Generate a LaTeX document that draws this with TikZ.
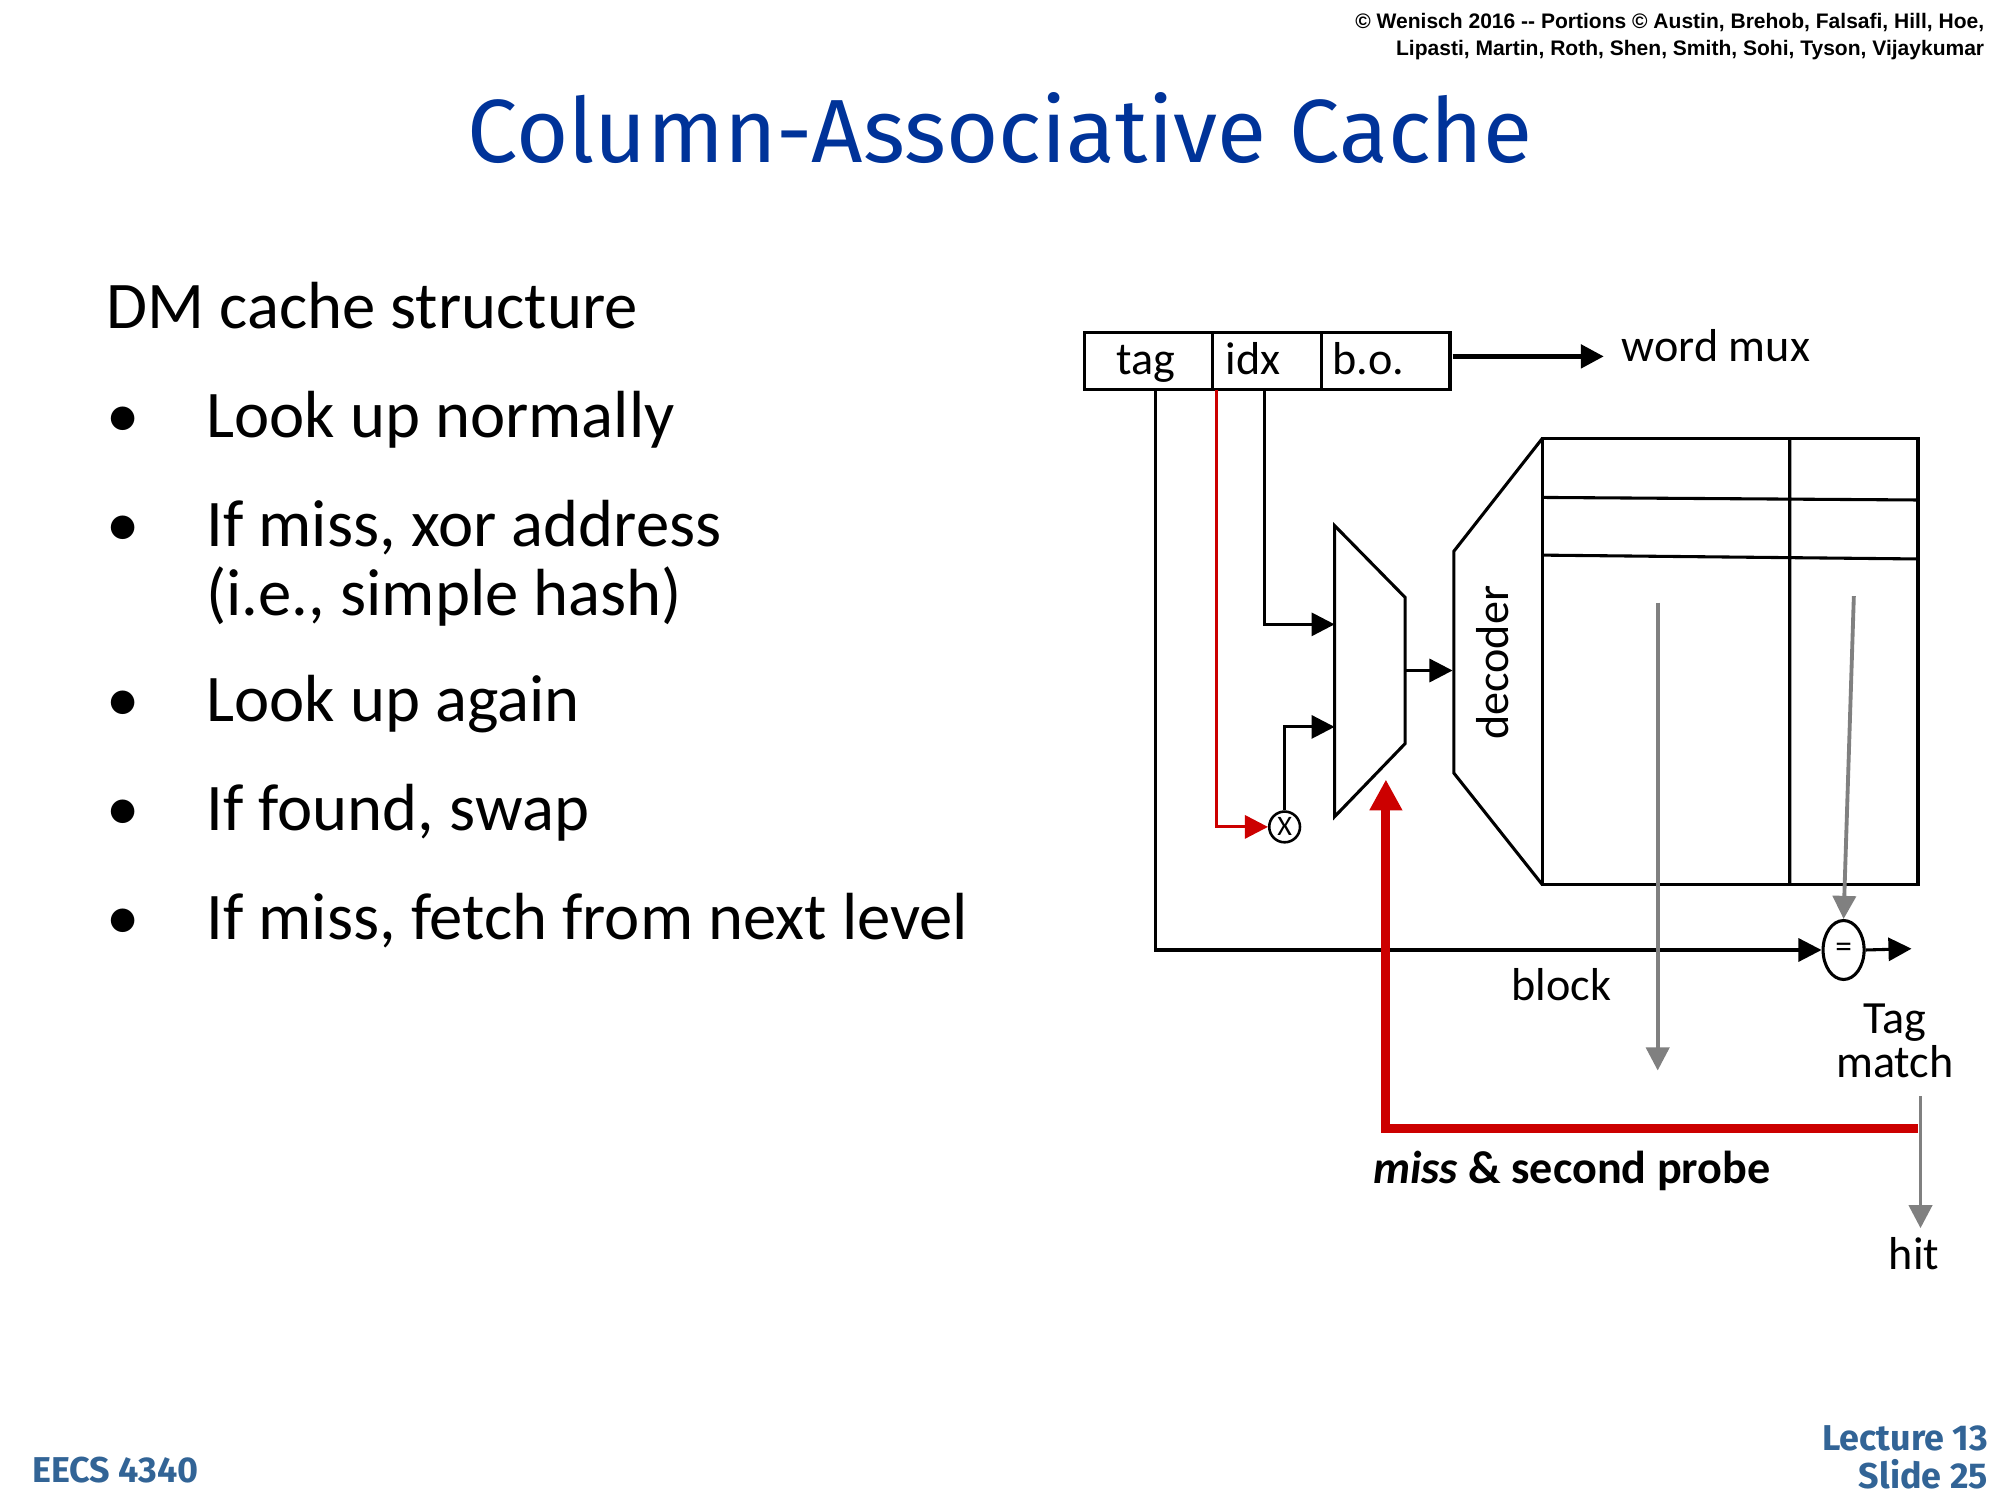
\documentclass[tikz,border=0pt]{standalone}
\usepackage{fontspec}
\setmainfont{Carlito}
\newfontfamily\arialfont{Liberation Sans}
\newfontfamily\titlefont{Fira Sans}
\usetikzlibrary{arrows.meta,shapes.geometric,positioning}
\definecolor{slideblue}{RGB}{0,51,153}
\definecolor{footblue}{RGB}{50,100,150}
\definecolor{probered}{RGB}{204,0,0}
\begin{document}
\begin{tikzpicture}[x=0.5pt,y=-0.5pt,
	wire/.style={draw=black,line width=1.2pt},
	tip/.style={-{Triangle[length=9pt,width=9pt]}},
	bullet/.style={anchor=base west,font=\fontsize{26}{30}\selectfont},
	field/.style={anchor=base west,font=\fontsize{18}{20}\selectfont},
	label/.style={font=\fontsize{18}{20}\selectfont,align=center}]

	\useasboundingbox (0,0) rectangle (1560,1170);

	% header and title
	\node[anchor=north east,align=right,inner sep=0pt,
		font=\arialfont\bfseries\fontsize{8.2}{10.5}\selectfont]
		(copy) at (1548,10) {© Wenisch 2016 -- Portions © Austin, Brehob, Falsafi, Hill, Hoe,\\
		Lipasti, Martin, Roth, Shen, Smith, Sohi, Tyson, Vijaykumar};
	\node[text=slideblue,font=\titlefont\fontsize{35}{40}\selectfont] (title) at (780,100)
		{Column-Associative Cache};

	% bullet text
	\node[bullet] (head) at (76,256) {DM cache structure};
	\foreach \y/\txt [count=\i] in {341/Look up normally,426/{If miss, xor address},
		563/Look up again,648/{If found, swap},733/{If miss, fetch from next level}}{
		\node[bullet] (b\i) at (154,\y) {\txt};
		\node[bullet] (d\i) at (76,\y) {•};
	}
	\node[bullet] (hash) at (154,480) {(i.e., simple hash)};

	% address fields
	\draw[wire] (846,259) rectangle (1131,304);
	\draw[wire] (946,259) -- (946,304) (1031,259) -- (1031,304);
	\node[field] (tag) at (864,292) {tag};
	\node[field] (idx) at (949,292) {idx};
	\node[field] (bo) at (1032,292) {b.o.};
	\coordinate (boout) at (1133,278);
	\node[label,anchor=west] (wmux) at (1258,270) {word mux};
	\draw[wire,line width=2pt,tip] (boout) -- (1251,278);

	% array and decoder
	\draw[wire] (1203,342) rectangle (1496,690);
	\draw[wire] (1396,342) -- (1396,690) (1203,388) -- (1496,390) (1203,433) -- (1496,436);
	\draw[wire] (1203,342) -- (1134,430) -- (1134,603) -- (1203,690);
	\node[label,rotate=90] (dec) at (1164,517) {decoder};

	% mux and xor
	\draw[wire] (1041,410) -- (1096,466) -- (1096,580) -- (1041,637) -- cycle;
	\node[draw,circle,line width=1pt,inner sep=0pt,minimum size=12pt,
		font=\fontsize{11}{12}\selectfont] (xor) at (1002,645) {X};
	\draw[wire,tip] (986,304) |- (1041,487);
	\draw[wire,tip] (xor.north) |- (1041,567);
	\draw[draw=probered,line width=1.2pt,tip] (949,304) |- (xor.west);
	\draw[wire,tip] (1096,523) -- (1133,523);

	% tag compare
	\node[draw,ellipse,line width=1.2pt,minimum width=16pt,minimum height=23pt,inner sep=0pt,
		font=\fontsize{13}{14}\selectfont] (eq) at (1438,741) {=};
	\draw[wire,tip] (901,304) |- (eq.west);
	\draw[wire,tip] (eq.east) -- (1491,740);
	\draw[draw=gray,line width=1.5pt,tip] (1446,465) -- (eq.north);
	\draw[draw=gray,line width=1.5pt,tip] (1293,470) -- (1293,835);
	\node[label] (block) at (1218,768) {block};
	\node[label,font=\fontsize{18}{17}\selectfont] (match) at (1478,812) {Tag\\match};

	% second probe
	\coordinate (probe) at (1496,880);
	\draw[draw=probered,line width=3.5pt,-{Triangle[length=12pt,width=12pt]}]
		(probe) -| (1081,608);
	\node[label,font=\bfseries\fontsize{18}{20}\selectfont] (miss) at (1226,913)
		{\textit{miss} \& second probe};
	\draw[draw=gray,line width=1.5pt,tip] (1498,855) -- (1498,958);
	\node[label] (hit) at (1493,978) {hit};

	% footer
	\node[anchor=base west,text=footblue,font=\titlefont\bfseries\fontsize{14}{16}\selectfont]
		(course) at (18,1156) {EECS 4340};
	\node[anchor=south east,align=right,inner sep=0pt,text=footblue,
		font=\titlefont\bfseries\fontsize{14}{15}\selectfont] (slide) at (1551,1162)
		{Lecture 13\\Slide 25};
\end{tikzpicture}
\end{document}
